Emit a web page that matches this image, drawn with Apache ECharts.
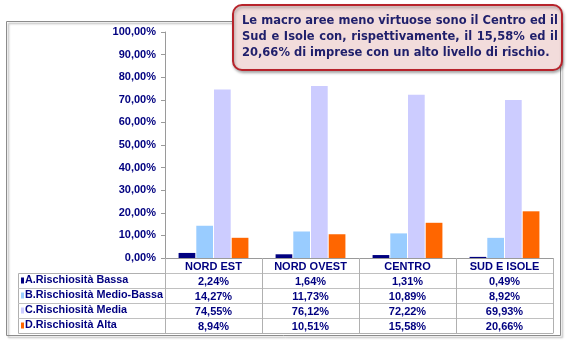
<!DOCTYPE html>
<html><head><meta charset="utf-8">
<script src="https://cdn.jsdelivr.net/npm/echarts@6/dist/echarts.min.js"></script>
<style>html,body{margin:0;padding:0;background:#fff}#c{width:575px;height:341px}</style>
</head><body><div id="c"></div>
<script>
const categories = ['NORD EST', 'NORD OVEST', 'CENTRO', 'SUD E ISOLE'];
const seriesNames = ['A.Rischiosità Bassa', 'B.Rischiosità Medio-Bassa', 'C.Rischiosità Media', 'D.Rischiosità Alta'];
const bassa = [2.24, 1.64, 1.31, 0.49];
const medioBassa = [14.27, 11.73, 10.89, 8.92];
const media = [74.55, 76.12, 72.22, 69.93];
const alta = [8.94, 10.51, 15.58, 20.66];
const yTicks = [0, 10, 20, 30, 40, 50, 60, 70, 80, 90, 100];
const noteLines = [
  'Le macro aree meno virtuose sono il Centro ed il',
  'Sud e Isole con, rispettivamente, il 15,58% ed il',
  '20,66% di imprese con un alto livello di rischio.'
];

const colors = ['#000080', '#99CCFF', '#CCCCFF', '#FF6600'];
const navy = '#000080';
const FONT = '"Liberation Sans", Arial, sans-serif';
const fmt = v => v.toFixed(2).replace('.', ',') + '%';
const rows = [bassa, medioBassa, media, alta];
const ROWH = 15;

const chart = echarts.init(document.getElementById('c'), null, {renderer: 'canvas'});

const lbl = {color: navy, fontWeight: 'bold', fontFamily: FONT, fontSize: 11};
const xAxes = [{
  type: 'category', data: categories, position: 'bottom',
  axisLine: {lineStyle: {color: '#9a9a9a'}},
  axisTick: {show: true, length: ROWH * 5, lineStyle: {color: '#b0b0b0'}},
  axisLabel: Object.assign({margin: 3}, lbl)
}];
rows.forEach((r, i) => {
  xAxes.push({
    type: 'category', data: r.map(fmt), position: 'bottom', offset: ROWH * (i + 1),
    axisLine: {lineStyle: {color: '#c0c0c0'}}, axisTick: {show: false},
    axisLabel: Object.assign({margin: 3}, lbl)
  });
});
xAxes.push({
  type: 'category', data: categories, position: 'bottom', offset: ROWH * 5,
  axisLine: {lineStyle: {color: '#b0b0b0'}}, axisTick: {show: false}, axisLabel: {show: false}
});

chart.setOption({
  animation: false,
  grid: {left: 165, right: 22, top: 32, bottom: 83},
  xAxis: xAxes,
  yAxis: {
    type: 'value', min: yTicks[0], max: yTicks[yTicks.length - 1], interval: 10,
    axisLine: {show: true, lineStyle: {color: '#9a9a9a'}},
    axisTick: {show: true, length: 4, lineStyle: {color: '#9a9a9a'}},
    splitLine: {show: false},
    axisLabel: Object.assign({margin: 9, formatter: v => fmt(v)}, lbl)
  },
  series: rows.map((r, i) => ({
    name: seriesNames[i], type: 'bar', data: r, xAxisIndex: 0,
    barCategoryGap: '28%', barGap: '6%',
    itemStyle: {color: colors[i]}
  }))
});

const y0 = chart.convertToPixel({yAxisIndex: 0}, 0);
const xL = 18, xA = 165;
const g = [];
// outer frame
g.push({type: 'rect', shape: {x: 6.5, y: 21.5, width: 554, height: 314},
  style: {fill: 'none', stroke: '#8c8c8c', lineWidth: 1, shadowColor: 'rgba(0,0,0,0.35)', shadowBlur: 2, shadowOffsetX: 2, shadowOffsetY: 2}, z: 0});
// left legend column of the table
g.push({type: 'rect', shape: {x: xL + 0.5, y: y0 + ROWH + 0.5, width: xA - xL, height: ROWH * 4},
  style: {fill: 'none', stroke: '#b0b0b0', lineWidth: 1}, z: 1});
for (let i = 1; i < 4; i++) {
  const yy = Math.round(y0 + ROWH * (i + 1)) + 0.5;
  g.push({type: 'line', shape: {x1: xL, y1: yy, x2: xA, y2: yy}, style: {stroke: '#c0c0c0', lineWidth: 1}, z: 1});
}
seriesNames.forEach((n, i) => {
  const cy = y0 + ROWH * (i + 1) + ROWH / 2;
  g.push({type: 'rect', shape: {x: 21, y: cy - 3, width: 3, height: 6}, style: {fill: colors[i]}, z: 2});
  g.push({type: 'text', x: 25, y: cy, style: {text: n, fill: navy, font: 'bold 10.8px ' + FONT, textVerticalAlign: 'middle'}, z: 2});
});
// annotation box
g.push({type: 'rect', shape: {x: 233, y: 5, width: 329, height: 65, r: 9},
  style: {fill: '#F2DCDB', stroke: '#B7232B', lineWidth: 2, shadowColor: 'rgba(0,0,0,0.3)', shadowBlur: 3, shadowOffsetX: 1, shadowOffsetY: 2}, z: 10});
const NFONT = 'bold 11.5px "DejaVu Sans", Verdana, sans-serif';
const ctx = document.createElement('canvas').getContext('2d');
ctx.font = NFONT;
const NX = 242, NW = 316;
noteLines.forEach((t, i) => {
  const words = t.split(' ');
  const wsum = words.reduce((s, w) => s + ctx.measureText(w).width, 0);
  const gap = i < noteLines.length - 1 ? (NW - wsum) / (words.length - 1) : ctx.measureText(' ').width;
  let x = NX;
  words.forEach(w => {
    g.push({type: 'text', x: x, y: 21 + i * 16, style: {text: w, fill: '#1F1F6B', font: NFONT, textVerticalAlign: 'middle'}, z: 11});
    x += ctx.measureText(w).width + gap;
  });
});
chart.setOption({graphic: g});
</script>
</body></html>
